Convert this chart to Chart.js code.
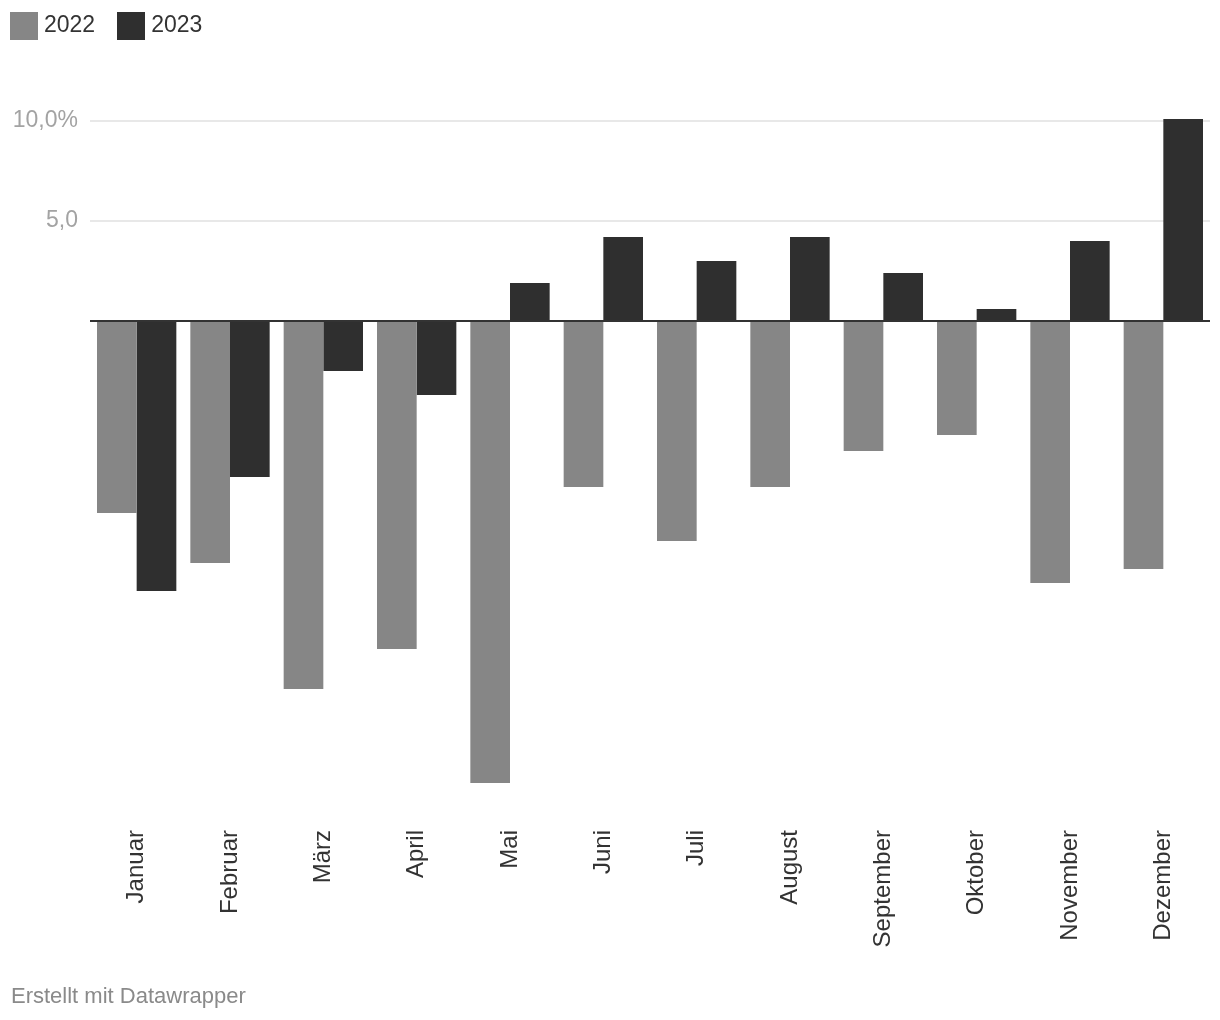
<!DOCTYPE html>
<html>
<head>
<meta charset="utf-8">
<script src="https://cdn.jsdelivr.net/npm/chart.js@4/dist/chart.umd.min.js"></script>
<style>
  html, body { margin: 0; padding: 0; background: #fff; }
  body { width: 1220px; height: 1020px; position: relative; overflow: hidden;
         font-family: "Liberation Sans", Arial, Helvetica, sans-serif; }
  #wrap { position: absolute; left: 0; top: 0; width: 1220px; height: 1020px; }
  #legend { position: absolute; left: 10px; top: 12px; display: flex; align-items: center;
            font-size: 23px; color: #333; }
  .item { display: flex; align-items: center; margin-right: 22px; }
  .item span { position: relative; top: -2px; }
  .sw { width: 28px; height: 28px; margin-right: 6px; }
  #footer { position: absolute; left: 11px; top: 983px; font-size: 22px; color: #8a8a8a; }
</style>
</head>
<body>
<div id="wrap"><canvas id="c" width="1220" height="1020"></canvas></div>
<div id="legend"></div>
<div id="footer">Erstellt mit Datawrapper</div>
<script>
const categories = ['Januar','Februar','März','April','Mai','Juni','Juli','August','September','Oktober','November','Dezember'];
const seriesNames = ['2022', '2023'];
const values2022 = [-9.6, -12.1, -18.4, -16.4, -23.1, -8.3, -11.0, -8.3, -6.5, -5.7, -13.1, -12.4];
const values2023 = [-13.5, -7.8, -2.5, -3.7, 1.9, 4.2, 3.0, 4.2, 2.4, 0.6, 4.0, 10.1];
const tickValues = [0, 5, 10];
const tickLabels = ['', '5,0', '10,0%'];

const colors = ['#868686', '#2f2f2f'];
const FONT = '"Liberation Sans", Arial, Helvetica, sans-serif';

// HTML legend
const leg = document.getElementById('legend');
seriesNames.forEach((n, i) => {
  const it = document.createElement('div'); it.className = 'item';
  const sw = document.createElement('div'); sw.className = 'sw'; sw.style.background = colors[i];
  const tx = document.createElement('span'); tx.textContent = n;
  it.appendChild(sw); it.appendChild(tx); leg.appendChild(it);
});

const zeroLine = {
  id: 'zeroLine',
  afterDatasetsDraw(chart) {
    const y = chart.scales.y.getPixelForValue(0);
    const a = chart.chartArea;
    const ctx = chart.ctx;
    ctx.save();
    ctx.strokeStyle = '#333';
    ctx.lineWidth = 2;
    ctx.beginPath();
    ctx.moveTo(a.left, y);
    ctx.lineTo(a.right, y);
    ctx.stroke();
    ctx.restore();
  }
};

new Chart(document.getElementById('c'), {
  type: 'bar',
  data: {
    labels: categories,
    datasets: [
      { label: seriesNames[0], data: values2022, backgroundColor: colors[0], borderWidth: 0 },
      { label: seriesNames[1], data: values2023, backgroundColor: colors[1], borderWidth: 0 }
    ]
  },
  options: {
    responsive: false,
    animation: false,
    events: [],
    layout: { padding: { top: 119, right: 10, left: 0, bottom: 0 } },
    datasets: { bar: { barPercentage: 1, categoryPercentage: 0.85 } },
    plugins: { legend: { display: false }, tooltip: { enabled: false } },
    scales: {
      x: {
        grid: { display: false, drawTicks: false },
        border: { display: false },
        ticks: {
          minRotation: 90, maxRotation: 90, padding: 9, autoSkip: false,
          color: '#333', font: { family: FONT, size: 24 }
        },
        afterFit(s) { s.height = 199; }
      },
      y: {
        min: -25, max: 10.1,
        grid: {
          drawTicks: false,
          color: (c) => (c.tick && c.tick.value === 0) ? 'rgba(0,0,0,0)' : '#e8e8e8',
          lineWidth: 2
        },
        border: { display: false },
        afterBuildTicks(s) { s.ticks = tickValues.map(v => ({ value: v })); },
        ticks: {
          padding: 12,
          color: '#a3a3a3',
          font: { family: FONT, size: 23, lineHeight: 1.0 },
          callback: (v) => { const i = tickValues.indexOf(v); return i >= 0 ? tickLabels[i] : ''; }
        },
        afterFit(s) { s.width = 90; }
      }
    }
  },
  plugins: [zeroLine]
});
</script>
</body>
</html>
